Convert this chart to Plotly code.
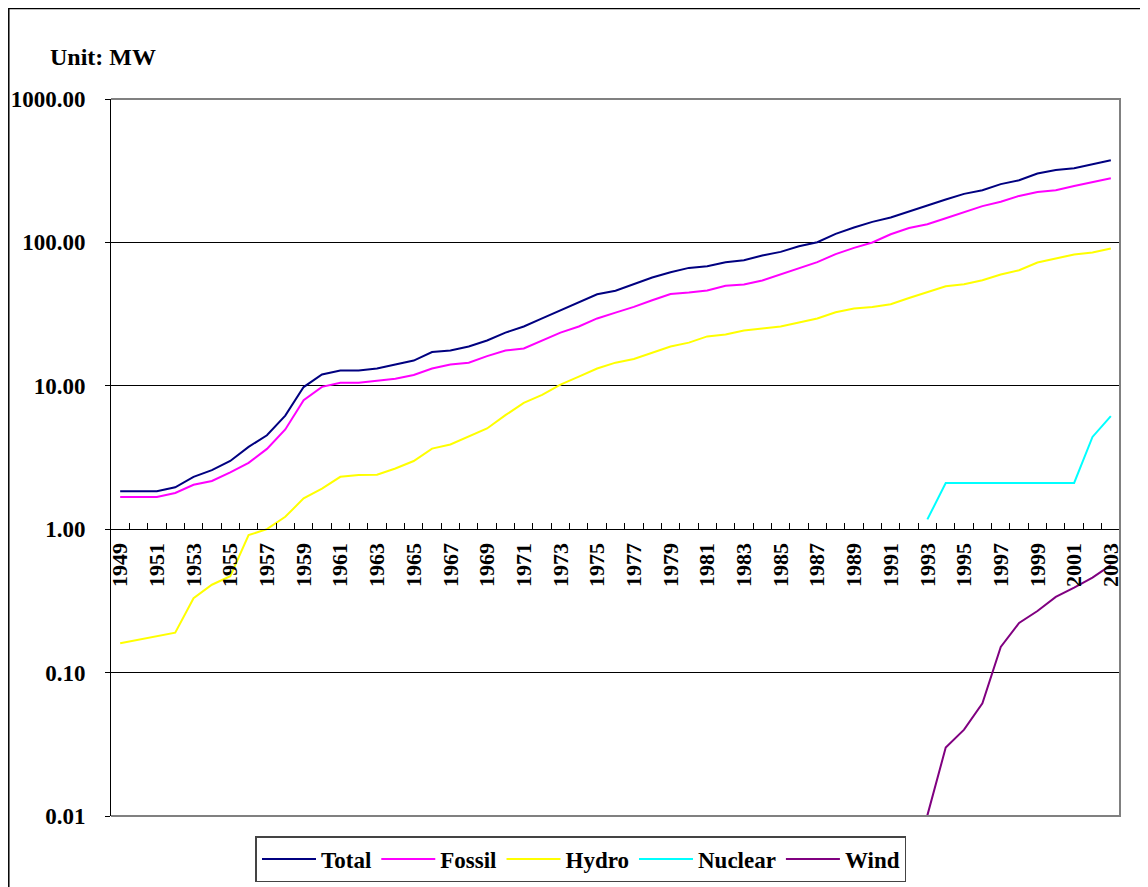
import plotly.graph_objects as go

years = list(range(1949, 2004))

total = [1.84, 1.84, 1.84, 1.96, 2.32, 2.58, 2.99, 3.75, 4.52, 6.2,
         9.8, 12.0, 12.8, 12.8, 13.2, 14.1, 15.0, 17.2, 17.6, 18.8,
         20.7, 23.5, 25.9, 29.5, 33.5, 38.1, 43.5, 46.0, 51.1, 56.9,
         62.0, 66.4, 68.2, 72.8, 75.2, 81.1, 85.9, 94.0, 100.3, 114.6,
         127, 139, 149, 165, 181, 199, 218, 231, 255, 271,
         302, 320, 329, 351, 374]

fossil = [1.68, 1.68, 1.68, 1.79, 2.04, 2.17, 2.49, 2.90, 3.63, 4.96,
          7.94, 9.83, 10.5, 10.5, 10.9, 11.2, 11.9, 13.2, 14.1, 14.5,
          16.1, 17.6, 18.2, 20.7, 23.5, 25.9, 29.5, 32.4, 35.5, 39.5,
          43.7, 44.7, 46.2, 49.8, 50.9, 54.2, 60.0, 66.1, 72.8, 82.8,
          91.6, 99.8, 114, 126, 134, 147.5, 163, 179, 192, 211,
          225, 231, 247, 263, 280]

hydro = [0.16, 0.17, 0.18, 0.19, 0.33, 0.41, 0.47, 0.91, 1.0, 1.22,
         1.64, 1.92, 2.32, 2.39, 2.40, 2.65, 2.99, 3.65, 3.90, 4.43,
         5.04, 6.24, 7.60, 8.64, 10.2, 11.6, 13.2, 14.5, 15.4, 17.0,
         18.8, 20.0, 22.1, 22.8, 24.3, 25.1, 25.9, 27.6, 29.5, 32.6,
         34.6, 35.5, 37.1, 41.0, 45.0, 49.5, 51.1, 54.5, 59.7, 64.0,
         72.4, 77.6, 82.4, 85.1, 90.6]

nuclear = [None] * 44 + [1.17, 2.10, 2.10, 2.10, 2.10, 2.10, 2.10, 2.10, 2.10, 4.40, 6.14]

wind = [None] * 44 + [0.0101, 0.030, 0.040, 0.061, 0.151, 0.222, 0.269, 0.337, 0.392, 0.46, 0.561]

series_names = ["Total", "Fossil", "Hydro", "Nuclear", "Wind"]
series_colors = ["#000080", "#FF00FF", "#FFFF00", "#00FFFF", "#800080"]
series_values = [total, fossil, hydro, nuclear, wind]

y_tick_vals = [0.01, 0.1, 1, 10, 100, 1000]
y_tick_text = ["0.01", "0.10", "1.00", "10.00", "100.00", "1000.00"]
x_tick_vals = [y for y in years if y % 2 == 1]
x_tick_text = [str(y) for y in x_tick_vals]
x_boundaries = [y + 0.5 for y in years[:-1]]

FONT = "Liberation Serif"

fig = go.Figure()
for name, color, vals in zip(series_names, series_colors, series_values):
    fig.add_trace(go.Scatter(x=years, y=vals, mode="lines", name=name,
                             line=dict(color=color, width=2),
                             connectgaps=False))

fig.update_layout(
    width=1148, height=887,
    margin=dict(l=103, r=36, t=91, b=79, autoexpand=False),
    paper_bgcolor="white", plot_bgcolor="white",
    font=dict(family=FONT, color="black"),
    showlegend=True,
    legend=dict(orientation="h", x=0.4658, xanchor="center", y=-0.028, yanchor="top",
                bordercolor="#444444", borderwidth=1.5, bgcolor="white",
                font=dict(family=FONT, size=23, weight="bold", color="black"),
                itemwidth=54, tracegroupgap=0),
    xaxis=dict(
        type="linear", range=[1948.5, 2003.5],
        anchor="free", position=0.4, automargin=False,
        showline=True, linecolor="black", linewidth=1,
        showgrid=False, zeroline=False,
        tickmode="array", tickvals=x_tick_vals, ticktext=x_tick_text,
        ticks="inside", ticklen=0, tickcolor="rgba(0,0,0,0)",
        tickangle=-90,
        tickfont=dict(family=FONT, size=22, weight="bold", color="black"),
        ticklabelstandoff=4,
        minor=dict(tickmode="array", tickvals=x_boundaries, ticks="inside",
                   ticklen=6, tickcolor="black", tickwidth=1, showgrid=False),
    ),
    yaxis=dict(
        type="log", range=[-2, 3], automargin=False,
        showline=True, linecolor="black", linewidth=1,
        showgrid=True, gridcolor="black", gridwidth=1,
        zeroline=False,
        tickmode="array", tickvals=y_tick_vals, ticktext=y_tick_text,
        ticks="outside", ticklen=5, tickcolor="black",
        tickfont=dict(family=FONT, size=23, weight="bold", color="black"),
        ticklabelstandoff=15,
    ),
    shapes=[
        dict(type="path", xref="paper", yref="paper",
             path="M 0,1 L 1,1 L 1,0 L 0,0",
             line=dict(color="#808080", width=2), layer="above"),
        dict(type="rect", xref="paper", yref="paper",
             x0=-0.1013, x1=1.1, y0=-0.2, y1=1.1262,
             line=dict(color="black", width=1.5), layer="below"),
    ],
    annotations=[
        dict(text="Unit: MW", xref="paper", yref="paper",
             x=-0.0624, y=1.0586, xanchor="left", yanchor="middle",
             showarrow=False,
             font=dict(family=FONT, size=24, weight="bold", color="black")),
    ],
)

fig.write_html("out.html")
